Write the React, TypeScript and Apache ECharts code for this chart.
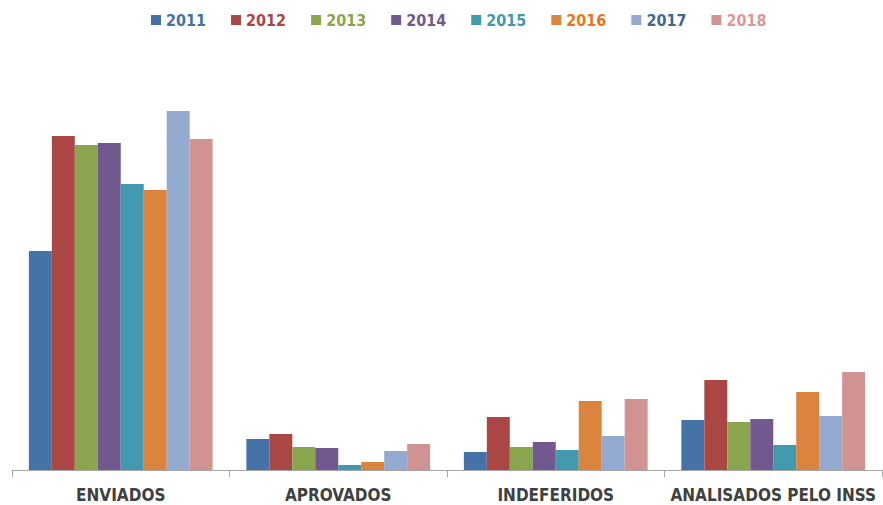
import React, { useEffect, useRef } from "react";
import * as echarts from "echarts";

const categories = ["ENVIADOS", "APROVADOS", "INDEFERIDOS", "ANALISADOS PELO INSS"];
const years = ["2011", "2012", "2013", "2014", "2015", "2016", "2017", "2018"];
const colors = ["#4572A7", "#AA4643", "#89A54E", "#71588F", "#4198AF", "#DB843D", "#93A9CF", "#D19392"];
const legendTextColors = ["#4572A7", "#AA4643", "#89A54E", "#71588F", "#4198AF", "#E87722", "#3F6796", "#D99A99"];

const v2011 = [219, 31, 18, 50];
const v2012 = [334, 36, 53, 90];
const v2013 = [325, 23, 23, 48];
const v2014 = [327, 22, 28, 51];
const v2015 = [286, 5, 20, 25];
const v2016 = [280, 8, 69, 78];
const v2017 = [359, 19, 34, 54];
const v2018 = [331, 26, 71, 98];
const seriesValues = [v2011, v2012, v2013, v2014, v2015, v2016, v2017, v2018];

const FONT = "'Liberation Sans Narrow', 'DejaVu Sans Condensed', sans-serif";

export default function App() {
  const ref = useRef<HTMLDivElement>(null);
  useEffect(() => {
    if (!ref.current) return;
    const chart = echarts.init(ref.current, undefined, { renderer: "svg" });
    chart.setOption({
      animation: false,
      backgroundColor: "#ffffff",
      legend: {
        top: 7,
        left: 146,
        itemWidth: 10,
        itemHeight: 10,
        itemGap: 25,
        icon: "rect",
        data: years.map((y, i) => ({
          name: y,
          textStyle: { color: legendTextColors[i] },
        })),
        textStyle: { fontFamily: FONT, fontSize: 16, fontWeight: "bold" },
      },
      grid: { left: 12, right: 1, top: 40, bottom: 35, containLabel: false },
      xAxis: {
        type: "category",
        data: categories,
        axisLine: { lineStyle: { color: "#A6A6A6", width: 1 } },
        axisTick: { show: true, interval: 0, length: 7, lineStyle: { color: "#A6A6A6" } },
        axisLabel: {
          interval: 0,
          margin: 16,
          color: "#404040",
          fontFamily: FONT,
          fontSize: 17,
          fontWeight: "bold",
        },
      },
      yAxis: {
        type: "value",
        min: 0,
        max: 430,
        show: false,
        splitLine: { show: false },
      },
      series: years.map((y, i) => ({
        name: y,
        type: "bar",
        data: seriesValues[i],
        barGap: "0%",
        barCategoryGap: "15.5%",
        itemStyle: { color: colors[i] },
      })),
    });
    return () => chart.dispose();
  }, []);
  return (
    <div
      ref={ref}
      style={{ position: "absolute", left: 0, top: 0, width: 883, height: 505 }}
    />
  );
}
